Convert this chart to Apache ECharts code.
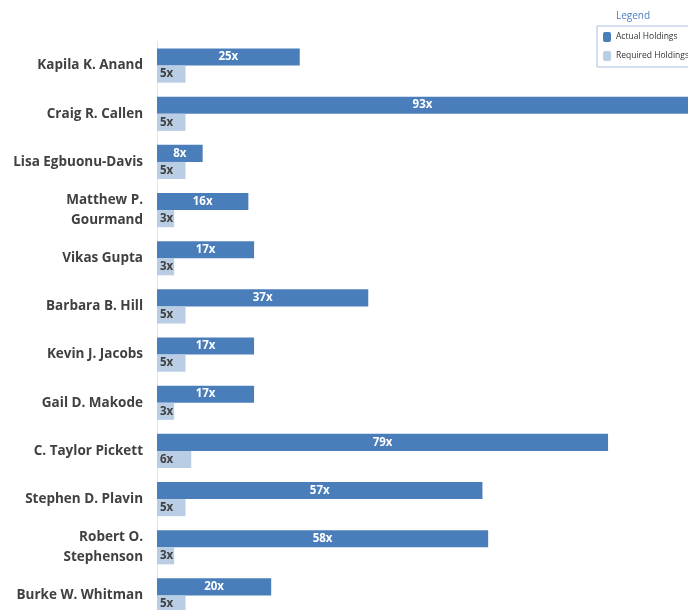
<!DOCTYPE html>
<html>
<head>
<meta charset="utf-8">
<script src="https://cdn.jsdelivr.net/npm/echarts@6/dist/echarts.min.js"></script>
<style>html,body{margin:0;padding:0;background:#fff;overflow:hidden;}#c{width:688px;height:622px;}</style>
</head>
<body>
<div id="c"></div>
<script>
const categories = ["Kapila K. Anand","Craig R. Callen","Lisa Egbuonu-Davis","Matthew P.\nGourmand","Vikas Gupta","Barbara B. Hill","Kevin J. Jacobs","Gail D. Makode","C. Taylor Pickett","Stephen D. Plavin","Robert O.\nStephenson","Burke W. Whitman"];
const actualHoldings = [25,93,8,16,17,37,17,17,79,57,58,20];
const requiredHoldings = [5,5,5,3,3,5,5,3,6,5,3,5];
const seriesNames = ["Actual Holdings","Required Holdings"];

const chart = echarts.init(document.getElementById('c'), null, {renderer:'canvas'});
const font = "'Open Sans', 'DejaVu Sans', sans-serif";
chart.setOption({
  animation:false,
  textStyle:{fontFamily:font},
  title:{text:'Legend', left:628, top:6, textAlign:'center', textStyle:{fontSize:10, fontWeight:'normal', color:'#4a7ebb', fontFamily:font}},
  legend:{
    orient:'vertical', left:597, top:26, padding:[6,12,6,6],
    itemWidth:8, itemHeight:10, itemGap:9,
    borderColor:'#a9bfdf', borderWidth:1,
    textStyle:{fontSize:8.5, color:'#333', fontFamily:font},
    data:seriesNames
  },
  grid:{left:157, right:0, top:41.5, height:578, containLabel:false},
  xAxis:{type:'value', min:0, max:93, show:false},
  yAxis:{
    type:'category', data:categories, inverse:true,
    axisLine:{show:true, lineStyle:{color:'#e3e3e3', width:1}},
    axisTick:{show:false},
    axisLabel:{margin:14, fontSize:13.5, fontWeight:'bold', color:'#404040', lineHeight:20, align:'right', fontFamily:font}
  },
  series:[
    {name:seriesNames[0], type:'bar', data:actualHoldings, barGap:'0%', barCategoryGap:'29%',
     itemStyle:{color:'#4a7ebb'},
     label:{show:true, position:'inside', formatter:'{c}x', color:'#fff', fontSize:11.5, fontWeight:'bold', fontFamily:font}},
    {name:seriesNames[1], type:'bar', data:requiredHoldings,
     itemStyle:{color:'#b9cde5'},
     label:{show:true, position:'insideLeft', distance:3, formatter:'{c}x', color:'#404040', fontSize:11.5, fontWeight:'bold', fontFamily:font}}
  ]
});
</script>
</body>
</html>
